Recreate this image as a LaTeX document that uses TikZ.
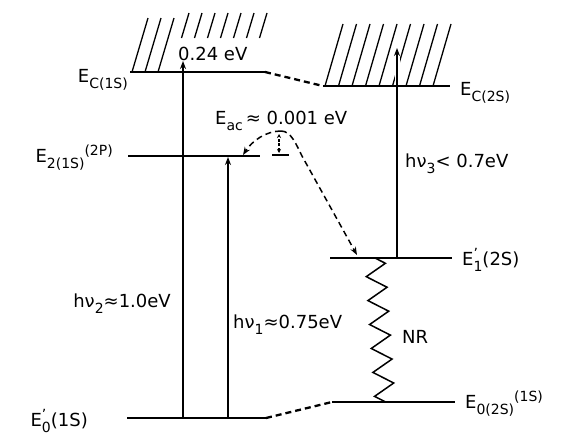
\documentclass[tikz,border=0pt]{standalone}
\usepackage{fontspec}
\setmainfont{DejaVu Sans}
\usetikzlibrary{arrows.meta, decorations.pathmorphing}
\newcommand{\lvsub}[1]{\raisebox{-6pt}{\fontsize{14}{14}\selectfont #1}}
\newcommand{\lvsup}[1]{\raisebox{7pt}{\fontsize{14}{14}\selectfont #1}}
\tikzset{
  level/.style={line width=2.3pt},
  lbl/.style={font=\fontsize{18}{20}\selectfont, inner sep=1pt},
  photon/.style={-{Stealth[length=8pt, width=6pt]}, line width=1.3pt},
  jump/.style={-{Stealth[length=8pt, width=6pt]}, line width=1.5pt, dash pattern=on 6pt off 4pt},
  link/.style={line width=2.3pt, dash pattern=on 6pt off 4pt},
  hatch/.style={line width=1.3pt},
}
\begin{document}
\begin{tikzpicture}[x=1pt, y=-1pt]
  \useasboundingbox (0,0) rectangle (567,434);
  \coordinate (c1a) at (130,72);  \coordinate (c1b) at (265,72);
  \coordinate (c2a) at (323,86);  \coordinate (c2b) at (450,86);
  \coordinate (p2a) at (128,156); \coordinate (p2b) at (260,156);
  \coordinate (s1a) at (330,258); \coordinate (s1b) at (452,258);
  \coordinate (g2a) at (332,402); \coordinate (g2b) at (455,402);
  \coordinate (g1a) at (127,418); \coordinate (g1b) at (266,418);
  % hatching of the bands
  \foreach \k in {0,1,2} \draw[hatch] (132+13*\k,72) -- ++(16,-54);
  \foreach \k in {3,...,9} \draw[hatch] (142.5+13*\k,38) -- ++(7.5,-25);
  \foreach \k in {0,...,8} \draw[hatch] (325+13.5*\k,86) -- ++(18,-62);
  % transitions
  \coordinate (v2a) at (183,418); \coordinate (v2b) at (183,61);
  \coordinate (v1a) at (228,418); \coordinate (v1b) at (228,157);
  \coordinate (v3a) at (397,258); \coordinate (v3b) at (397,48);
  \draw[photon] (v2a) -- (v2b);
  \draw[photon] (v1a) -- (v1b);
  \draw[photon, preaction={draw=white, line width=5pt, -}] (v3a) -- (v3b);
  \coordinate (peak) at (281,131);
  \coordinate (bar1) at (272,155); \coordinate (bar2) at (289,155);
  \coordinate (jl) at (243,155); \coordinate (jr) at (357,255);
  \draw[jump] (peak) .. controls (266,131) and (252,141) .. (jl);
  \draw[jump] (peak) .. controls (291,131) and (296,144) .. (302,156) -- (jr);
  \draw[{Stealth[length=4pt, width=4pt]}-{Stealth[length=4pt, width=4pt]}, line width=1.2pt,
        dash pattern=on 3pt off 1.5pt] (279,153) -- (279,134);
  \draw[line width=2pt] (bar1) -- (bar2);
  \coordinate (nra) at (375,258); \coordinate (nrb) at (385,402);
  \draw[line width=1.5pt, decorate, decoration={zigzag, segment length=24pt, amplitude=10pt}] (nra) -- (nrb);
  % levels
  \draw[level] (c1a) -- (c1b); \draw[level] (c2a) -- (c2b);
  \draw[level] (p2a) -- (p2b); \draw[level] (s1a) -- (s1b);
  \draw[level] (g2a) -- (g2b); \draw[level] (g1a) -- (g1b);
  \draw[link] (c1b) -- (c2a); \draw[link] (g1b) -- (g2a);
  % labels
  \node[lbl, anchor=base east] (lc1) at (129,82)  {E\lvsub{C(1S)}};
  \node[lbl, anchor=base east] (lp2) at (114,162) {E\lvsub{2(1S)}\lvsup{(2P)}};
  \node[lbl, anchor=base east] (lg1) at (89,426)  {E\rlap{\lvsup{'}}\lvsub{0}(1S)};
  \node[lbl, anchor=base west] (lc2) at (459,95)  {E\lvsub{C(2S)}};
  \node[lbl, anchor=base west] (ls1) at (461,265) {E\rlap{\lvsup{'}}\lvsub{1}(2S)};
  \node[lbl, anchor=base west] (lg2) at (464,408) {E\lvsub{0(2S)}\lvsup{(1S)}};
  \node[lbl, anchor=base west] (lgap) at (177,60)  {0.24 eV};
  \node[lbl, anchor=base west] (lac) at (214,124) {E\lvsub{ac}\,≈ 0.001 eV};
  \node[lbl, anchor=base east] (lv2) at (172,307) {hν\lvsub{2}≈1.0eV};
  \node[lbl, anchor=base west] (lv1) at (232,328) {hν\lvsub{1}≈0.75eV};
  \node[lbl, anchor=base west] (lv3) at (404,167) {hν\lvsub{3}< 0.7eV};
  \node[lbl, anchor=base west] (lnr) at (401,343) {NR};
\end{tikzpicture}
\end{document}
